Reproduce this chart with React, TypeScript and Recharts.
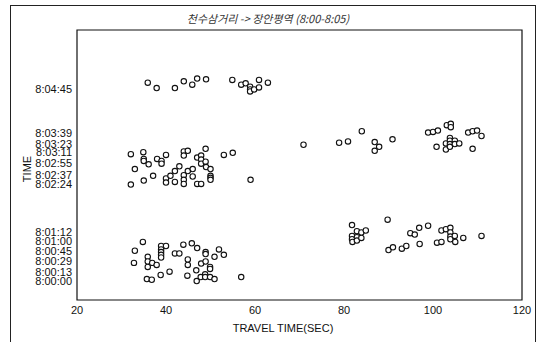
import React from "react";
import { ScatterChart, Scatter, XAxis, YAxis, ReferenceArea } from "recharts";

// Departures 8:04:30 – 8:05:00 [travel time (s), departure offset (s)]
const lateGroup: [number, number][] = [
  [35.9, 294], [37.9, 286], [42.0, 286], [44.0, 296], [45.9, 291], [47.0, 300],
  [49.0, 299], [54.9, 298], [56.9, 291], [57.9, 293], [58.9, 288], [58.9, 284],
  [58.9, 281], [59.8, 284], [60.9, 298], [60.9, 287], [62.9, 294],
];

// Departures 8:02:20 – 8:03:20, short travel times
const midFastGroup: [number, number][] = [
  [32.1, 188], [34.9, 191], [35.0, 181], [35.0, 178], [36.1, 173], [33.0, 166],
  [32.1, 143], [35.0, 149], [37.1, 156], [38.0, 181], [39.0, 178], [39.0, 174],
  [40.0, 187], [40.0, 152], [40.0, 146], [41.0, 156], [42.0, 163], [42.0, 147],
  [43.0, 170], [44.0, 192], [44.0, 186], [44.9, 193], [44.0, 157], [44.0, 150],
  [44.0, 144], [44.9, 163], [46.0, 166], [46.0, 155], [47.0, 183], [47.9, 186],
  [47.9, 180], [47.9, 174], [48.9, 196], [48.9, 177], [49.0, 169], [50.0, 166],
  [50.0, 156], [50.0, 153], [50.0, 150], [47.0, 144], [47.9, 144], [53.0, 187],
  [55.0, 190], [59.0, 150],
];

// Departures 8:03:10 – 8:03:55, long travel times
const midSlowGroup: [number, number][] = [
  [70.9, 202], [78.9, 205], [80.9, 207], [84.0, 222], [86.9, 206], [86.9, 193],
  [87.9, 199], [90.9, 210], [98.9, 220], [100.0, 221], [101.1, 223], [103.1, 231],
  [104.0, 233], [104.0, 228], [100.8, 199], [102.9, 204], [102.9, 195], [103.8, 212],
  [103.8, 208], [103.8, 203], [103.8, 199], [104.9, 208], [104.9, 203], [105.9, 204],
  [107.9, 220], [108.9, 222], [109.9, 223], [110.9, 215], [108.9, 196],
];

// Departures 8:00:00 – 8:01:00, short travel times
const earlyFastGroup: [number, number][] = [
  [33.0, 45], [32.8, 27], [34.8, 58], [35.9, 36], [35.9, 29], [35.9, 21],
  [36.9, 27], [37.9, 24], [35.7, 3], [36.8, 2], [38.8, 9], [38.9, 52],
  [38.9, 47], [38.9, 43], [38.9, 39], [38.9, 35], [40.0, 52], [40.8, 14],
  [42.0, 41], [43.0, 41], [43.9, 54], [45.8, 56], [47.0, 49], [44.9, 32],
  [44.9, 24], [44.8, 8], [46.8, 16], [47.9, 26], [48.9, 43], [48.9, 40],
  [48.9, 29], [49.9, 21], [49.9, 18], [46.9, 0], [47.8, 6], [48.8, 10],
  [48.8, 6], [49.9, 6], [50.9, 3], [50.9, 36], [51.9, 47], [53.0, 39],
  [56.9, 6],
];

// Departures 8:00:45 – 8:01:30, long travel times
const earlySlowGroup: [number, number][] = [
  [81.8, 83], [81.8, 67], [81.8, 62], [81.9, 58], [82.9, 74], [82.9, 65],
  [82.9, 60], [83.9, 72], [83.9, 64], [84.9, 75], [89.8, 91], [90.0, 46],
  [91.0, 50], [93.0, 48], [94.0, 52], [94.9, 71], [95.9, 69], [96.9, 79],
  [97.0, 55], [98.9, 82], [100.9, 57], [101.9, 58], [101.9, 75], [102.9, 77],
  [103.9, 79], [103.9, 72], [103.9, 66], [103.9, 62], [104.9, 67], [105.0, 58],
  [106.8, 64], [110.9, 67],
];

const groups = [lateGroup, midFastGroup, midSlowGroup, earlyFastGroup, earlySlowGroup];

const xTicks = [20, 40, 60, 80, 100, 120];
// Seconds after 8:00:00 and their clock labels
const yTickSeconds = [0, 13, 29, 45, 60, 72, 144, 157, 175, 191, 203, 219, 285];
const yTickLabels = [
  "8:00:00", "8:00:13", "8:00:29", "8:00:45", "8:01:00", "8:01:12",
  "8:02:24", "8:02:37", "8:02:55", "8:03:11", "8:03:23", "8:03:39", "8:04:45",
];

const titleText = "천수삼거리 -> 장안평역 (8:00-8:05)";
const xTitle = "TRAVEL TIME(SEC)";
const yTitle = "TIME";

const FONT = "'Liberation Sans', Arial, sans-serif";

const OpenCircle = (props: any) => {
  const { cx, cy } = props;
  if (cx == null || cy == null) return null;
  return <circle cx={cx} cy={cy} r={2.7} fill="#fff" stroke="#111" strokeWidth={1.1} />;
};

export default function App() {
  const tickStyle = { fontSize: 11, fill: "#111", fontFamily: FONT };
  return (
    <div style={{ position: "absolute", left: 0, top: 0, width: 545, height: 342, background: "#fff", overflow: "hidden" }}>
      <div
        style={{
          position: "absolute", left: 10, top: 5, width: 526, height: 360,
          border: "1px solid #222", boxSizing: "border-box",
        }}
      />
      <div
        style={{
          position: "absolute", left: 0, width: 536, top: 10, textAlign: "center",
          fontFamily: "'Noto Sans CJK KR', " + FONT, fontStyle: "italic", fontSize: 11,
          color: "#333", lineHeight: "16px",
        }}
      >
        {titleText}
      </div>
      <ScatterChart
        width={545}
        height={342}
        margin={{ top: 30, right: 23, bottom: 0, left: 0 }}
        style={{ position: "absolute", left: 0, top: 0 }}
      >
        <XAxis
          type="number"
          dataKey="t"
          domain={[20, 120]}
          ticks={xTicks}
          interval={0}
          axisLine={false}
          tickLine={false}
          tickSize={4}
          tick={tickStyle}
          height={42}
        />
        <YAxis
          type="number"
          dataKey="s"
          domain={[-28, 372]}
          ticks={yTickSeconds}
          interval={0}
          tickFormatter={(v: number) => yTickLabels[yTickSeconds.indexOf(v)] ?? ""}
          axisLine={false}
          tickLine={false}
          tickSize={3}
          tickMargin={2}
          tick={tickStyle}
          width={77}
        />
        <ReferenceArea
          x1={20}
          x2={120}
          y1={-28}
          y2={372}
          fill="none"
          stroke="#111"
          strokeWidth={1.2}
          ifOverflow="visible"
        />
        {groups.map((g, i) => (
          <Scatter
            key={i}
            data={g.map(([t, s]) => ({ t, s }))}
            shape={OpenCircle}
            isAnimationActive={false}
          />
        ))}
      </ScatterChart>
      <div
        style={{
          position: "absolute", left: 183, width: 200, top: 321, textAlign: "center",
          fontFamily: FONT, fontSize: 11, color: "#111", lineHeight: "14px",
        }}
      >
        {xTitle}
      </div>
      <div
        style={{
          position: "absolute", left: 27, top: 169, width: 60, marginLeft: -30, marginTop: -7,
          textAlign: "center", transform: "rotate(-90deg)",
          fontFamily: FONT, fontSize: 11, color: "#111", lineHeight: "14px",
        }}
      >
        {yTitle}
      </div>
    </div>
  );
}
